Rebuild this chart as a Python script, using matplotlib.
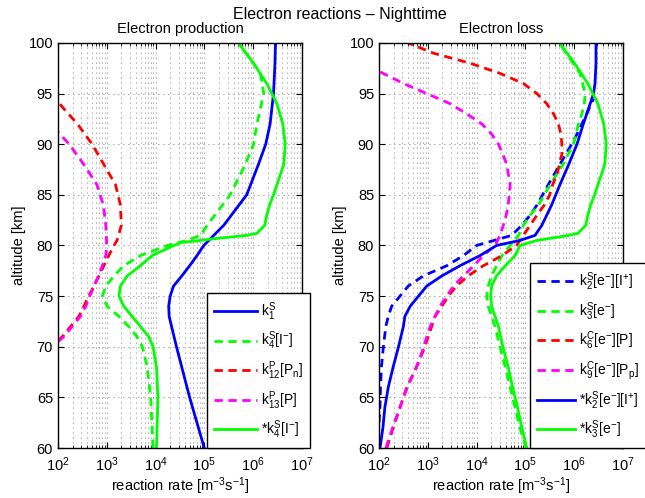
import numpy as np
import matplotlib
matplotlib.use('Agg')
import matplotlib.pyplot as plt
from matplotlib.ticker import LogLocator, NullFormatter

plt.rcParams['font.family'] = ['Liberation Sans', 'DejaVu Sans']
plt.rcParams['mathtext.fontset'] = 'custom'
plt.rcParams['mathtext.rm'] = 'Liberation Sans'
plt.rcParams['mathtext.it'] = 'Liberation Sans:italic'
plt.rcParams['mathtext.bf'] = 'Liberation Sans:bold'
plt.rcParams['font.size'] = 10

# ---- electron production (left), log10 of rate [m^-3 s^-1] ----
alt_k1 = [60, 65, 70, 73, 74, 75, 76, 77, 78, 79, 80, 82, 85, 88, 90, 92, 95, 98, 100]
log_k1 = [5.00, 4.70, 4.43, 4.28, 4.27, 4.30, 4.37, 4.54, 4.70, 4.85, 4.99, 5.40, 5.87, 6.11, 6.26, 6.35, 6.42, 6.45, 6.46]

alt_k4 = [60, 65, 68, 70, 71, 72, 73, 74, 75, 76, 77, 78, 79, 80, 80.5, 81, 82, 85, 88, 90, 92, 95, 97, 98, 100]
log_k4 = [3.95, 3.90, 3.83, 3.73, 3.62, 3.45, 3.25, 3.01, 2.91, 2.98, 3.15, 3.35, 3.69, 4.24, 4.65, 4.92, 5.06, 5.53, 5.84, 6.01, 6.08, 6.22, 6.15, 6.01, 5.70]

alt_k12 = [70.6, 71, 72, 73, 74, 75, 76, 77, 78, 79, 80, 80.5, 82, 84, 86, 88, 90, 92, 93.5, 94.2]
log_k12 = [2.00, 2.09, 2.26, 2.43, 2.53, 2.63, 2.74, 2.84, 2.94, 3.04, 3.15, 3.21, 3.30, 3.28, 3.18, 2.94, 2.70, 2.40, 2.12, 2.00]

alt_k13 = [70.5, 71, 72, 73, 74, 75, 76, 77, 78, 79, 80, 82, 84, 86, 88, 90, 91.2]
log_k13 = [2.00, 2.12, 2.29, 2.46, 2.57, 2.65, 2.74, 2.83, 2.91, 2.98, 3.00, 2.98, 2.93, 2.80, 2.53, 2.23, 2.00]

alt_k4s = [60, 65, 68, 70, 71, 72, 73, 74, 75, 76, 77, 78, 79, 80, 80.3, 80.5, 80.7, 81, 81.2, 82, 83, 84, 85, 86, 88, 90, 92, 94, 96, 98, 100]
log_k4s = [4.02, 4.05, 4.02, 3.95, 3.86, 3.69, 3.52, 3.35, 3.25, 3.28, 3.42, 3.69, 3.93, 4.37, 4.54, 4.92, 5.26, 5.87, 6.08, 6.24, 6.28, 6.34, 6.42, 6.49, 6.63, 6.66, 6.61, 6.49, 6.28, 6.01, 5.70]

# ---- electron loss (right) ----
alt_k2 = [62.5, 64, 66, 68, 70, 72, 73, 74, 75, 76, 77, 78, 79, 80, 81, 82, 83, 84, 86, 88, 90, 91, 92, 93, 94.5]
log_k2 = [2.00, 2.02, 2.03, 2.05, 2.09, 2.14, 2.19, 2.26, 2.43, 2.60, 2.91, 3.39, 3.73, 4.00, 4.72, 4.93, 5.10, 5.24, 5.47, 5.71, 5.95, 6.06, 6.16, 6.26, 6.40]

alt_k3 = [60, 62, 64, 66, 68, 70, 72, 73, 74, 75, 76, 77, 78, 79, 80, 81, 82, 83, 84, 86, 88, 90, 92, 93, 94, 95, 97, 100]
log_k3 = [5.02, 4.89, 4.79, 4.69, 4.59, 4.48, 4.38, 4.31, 4.24, 4.21, 4.24, 4.31, 4.41, 4.52, 4.69, 4.86, 4.96, 5.10, 5.27, 5.51, 5.77, 5.99, 6.09, 6.16, 6.21, 6.23, 6.12, 5.70]

alt_k6 = [60, 62, 64, 66, 68, 70, 71, 72, 73, 74, 75, 76, 77, 78, 79, 80, 81, 82, 83, 84, 85, 86, 87, 88, 89, 90, 91, 92, 93, 94, 95, 96, 97, 98, 99, 100]
log_k6 = [2.16, 2.29, 2.43, 2.57, 2.77, 2.94, 3.01, 3.08, 3.15, 3.29, 3.42, 3.59, 3.83, 4.14, 4.52, 4.82, 4.96, 5.10, 5.24, 5.39, 5.50, 5.56, 5.65, 5.70, 5.75, 5.75, 5.73, 5.68, 5.58, 5.44, 5.24, 4.96, 4.48, 3.87, 3.11, 2.60]

alt_k9 = [60, 62, 64, 66, 68, 70, 71, 72, 73, 74, 75, 76, 77, 78, 79, 80, 81, 82, 83, 84, 86, 88, 89, 90, 91, 92, 93, 94, 95, 96, 97.2]
log_k9 = [2.14, 2.28, 2.43, 2.58, 2.77, 2.92, 2.98, 3.05, 3.15, 3.25, 3.39, 3.53, 3.73, 3.94, 4.14, 4.38, 4.48, 4.55, 4.61, 4.65, 4.69, 4.62, 4.54, 4.45, 4.31, 4.11, 3.80, 3.46, 2.98, 2.50, 2.00]

alt_k2s = [60, 62, 64, 66, 68, 70, 72, 73, 74, 75, 76, 77, 78, 79, 80, 80.5, 81, 82, 84, 86, 88, 90, 92, 94, 95, 96, 98, 100]
log_k2s = [2.02, 2.08, 2.12, 2.19, 2.29, 2.40, 2.50, 2.53, 2.64, 2.81, 2.98, 3.29, 3.66, 4.07, 4.41, 4.89, 5.20, 5.34, 5.54, 5.71, 5.89, 6.06, 6.19, 6.33, 6.40, 6.43, 6.45, 6.45]

alt_k3s = [60, 62, 64, 66, 68, 70, 72, 73, 74, 75, 76, 77, 78, 79, 80, 80.2, 80.5, 81, 81.2, 82, 83, 84, 85, 86, 88, 90, 92, 94, 96, 98, 100]
log_k3s = [5.03, 4.93, 4.84, 4.74, 4.65, 4.54, 4.45, 4.38, 4.31, 4.29, 4.31, 4.41, 4.59, 4.79, 4.89, 5.03, 5.24, 5.89, 6.08, 6.24, 6.28, 6.34, 6.42, 6.49, 6.63, 6.66, 6.61, 6.49, 6.28, 6.01, 5.70]

xticks = [1e2, 1e3, 1e4, 1e5, 1e6, 1e7]
yticks = [60, 65, 70, 75, 80, 85, 90, 95, 100]

fig = plt.figure(figsize=(6.45, 4.98), dpi=100)
ax1 = fig.add_axes([0.0899, 0.1004, 0.378, 0.8133])
ax2 = fig.add_axes([0.5876, 0.1004, 0.378, 0.8133])

dash = (0, (3, 2))
lw = 2

ax1.plot(10**np.array(log_k1), alt_k1, color=(0, 0, 1), lw=lw, label=r'k$_1^\mathrm{S}$')
ax1.plot(10**np.array(log_k4), alt_k4, color=(0, 1, 0), lw=lw, ls=dash, label=r'k$_4^\mathrm{S}$[I$^{-}$]')
ax1.plot(10**np.array(log_k12), alt_k12, color=(1, 0, 0), lw=lw, ls=dash, label=r'k$_{12}^\mathrm{P}$[P$_\mathrm{n}$]')
ax1.plot(10**np.array(log_k13), alt_k13, color=(1, 0, 1), lw=lw, ls=dash, label=r'k$_{13}^\mathrm{P}$[P]')
ax1.plot(10**np.array(log_k4s), alt_k4s, color=(0, 1, 0), lw=lw, label=r'*k$_4^\mathrm{S}$[I$^{-}$]')

ax2.plot(10**np.array(log_k2), alt_k2, color=(0, 0, 1), lw=lw, ls=dash, label=r'k$_2^\mathrm{S}$[e$^{-}$][I$^{+}$]')
ax2.plot(10**np.array(log_k3), alt_k3, color=(0, 1, 0), lw=lw, ls=dash, label=r'k$_3^\mathrm{S}$[e$^{-}$]')
ax2.plot(10**np.array(log_k6), alt_k6, color=(1, 0, 0), lw=lw, ls=dash, label=r'k$_6^\mathrm{C}$[e$^{-}$][P]')
ax2.plot(10**np.array(log_k9), alt_k9, color=(1, 0, 1), lw=lw, ls=dash, label=r'k$_9^\mathrm{C}$[e$^{-}$][P$_\mathrm{p}$]')
ax2.plot(10**np.array(log_k2s), alt_k2s, color=(0, 0, 1), lw=lw, label=r'*k$_2^\mathrm{S}$[e$^{-}$][I$^{+}$]')
ax2.plot(10**np.array(log_k3s), alt_k3s, color=(0, 1, 0), lw=lw, label=r'*k$_3^\mathrm{S}$[e$^{-}$]')

for ax, title in [(ax1, 'Electron production'), (ax2, 'Electron loss')]:
    ax.set_xscale('log')
    ax.set_xlim(1e2, 1e7)
    ax.set_ylim(60, 100)
    ax.set_xticks(xticks)
    ax.xaxis.set_minor_locator(LogLocator(base=10, subs=np.arange(2, 10), numticks=50))
    ax.xaxis.set_minor_formatter(NullFormatter())
    ax.set_yticks(yticks)
    ax.grid(True, which='major', axis='both', color='0.3', lw=0.6, ls=(0, (1, 5)))
    ax.grid(True, which='minor', axis='x', color='0.35', lw=0.6, ls=(0, (1, 5)))
    ax.tick_params(which='both', direction='in', top=True, right=True, labelsize=10.5)
    ax.tick_params(which='major', length=4)
    ax.tick_params(which='minor', length=2)
    ax.tick_params(axis='x', pad=5)
    for s in ax.spines.values():
        s.set_linewidth(1)
    ax.set_xlabel(r'reaction rate [m$^{-3}$s$^{-1}$]', fontsize=10.5, labelpad=1)
    ax.set_ylabel('altitude [km]', fontsize=10.5, labelpad=2)
    ax.set_title(title, fontsize=10.5, pad=7)

leg_kw = dict(frameon=True, fancybox=False, framealpha=1, edgecolor='black',
              borderaxespad=0, handletextpad=0.3,
              labelspacing=0.5, borderpad=0.5, fontsize=10)
l1 = ax1.legend(loc='lower left', bbox_to_anchor=(0.611, 0.0), handlelength=3.1, **leg_kw)
l2 = ax2.legend(loc='lower left', bbox_to_anchor=(0.619, 0.0), handlelength=2.75, **leg_kw)
for l in (l1, l2):
    l.get_frame().set_linewidth(1)
    l.set_zorder(10)

fig.suptitle('Electron reactions \u2013 Nighttime', x=0.527, y=0.985, fontsize=11.5)

fig.savefig('out.png', dpi=100)
